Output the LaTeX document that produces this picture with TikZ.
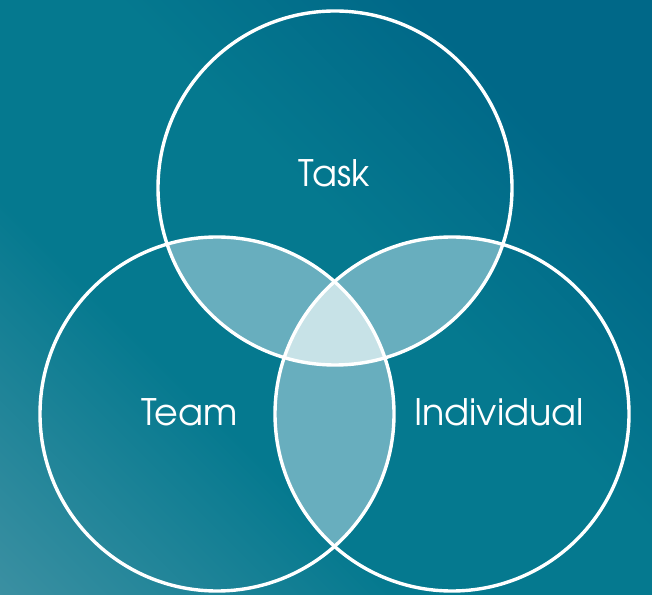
\documentclass[tikz,border=0pt]{standalone}
\usepackage{fontspec}
\setmainfont{TeX Gyre Adventor}
\definecolor{bgdark}{HTML}{006888}
\definecolor{bgmid}{HTML}{05798F}
\definecolor{bglight}{HTML}{3C90A2}
\definecolor{pairfill}{HTML}{68AEBE}
\definecolor{triplefill}{HTML}{C7E2E7}
\pgfdeclareverticalshading{bgshade}{100bp}{color(0bp)=(bglight); color(14bp)=(bglight); color(37bp)=(bgmid); color(55bp)=(bgmid); color(72bp)=(bgdark); color(100bp)=(bgdark)}
\tikzset{
  ring/.style={draw=white, line width=3.4pt, circle, minimum size=354pt, inner sep=0pt},
  lbl/.style={text=white, font=\fontsize{36.5}{40}\selectfont, inner sep=0pt, anchor=base}
}
\begin{document}
\begin{tikzpicture}[x=1pt,y=1pt]
\useasboundingbox (0,0) rectangle (652,594);
\shade[shading=bgshade, shading angle=-45] (0,0) rectangle (652,594);
\coordinate (ct) at (335,406);
\coordinate (cl) at (217,180);
\coordinate (cr) at (452,180);
\def\R{177}
% pairwise overlaps
\begin{scope}
  \clip (ct) circle (\R);
  \fill[pairfill] (cl) circle (\R);
  \fill[pairfill] (cr) circle (\R);
\end{scope}
\begin{scope}
  \clip (cl) circle (\R);
  \fill[pairfill] (cr) circle (\R);
\end{scope}
\begin{scope}
  \clip (ct) circle (\R);
  \clip (cl) circle (\R);
  \fill[triplefill] (cr) circle (\R);
\end{scope}
\node[ring] (task) at (ct) {};
\node[ring] (team) at (cl) {};
\node[ring] (indiv) at (cr) {};
\node[lbl] (tasklbl) at (334,407) {Task};
\node[lbl] (teamlbl) at (189.5,168) {Team};
\node[lbl] (indivlbl) at (499,168) {Individual};
\end{tikzpicture}
\end{document}
